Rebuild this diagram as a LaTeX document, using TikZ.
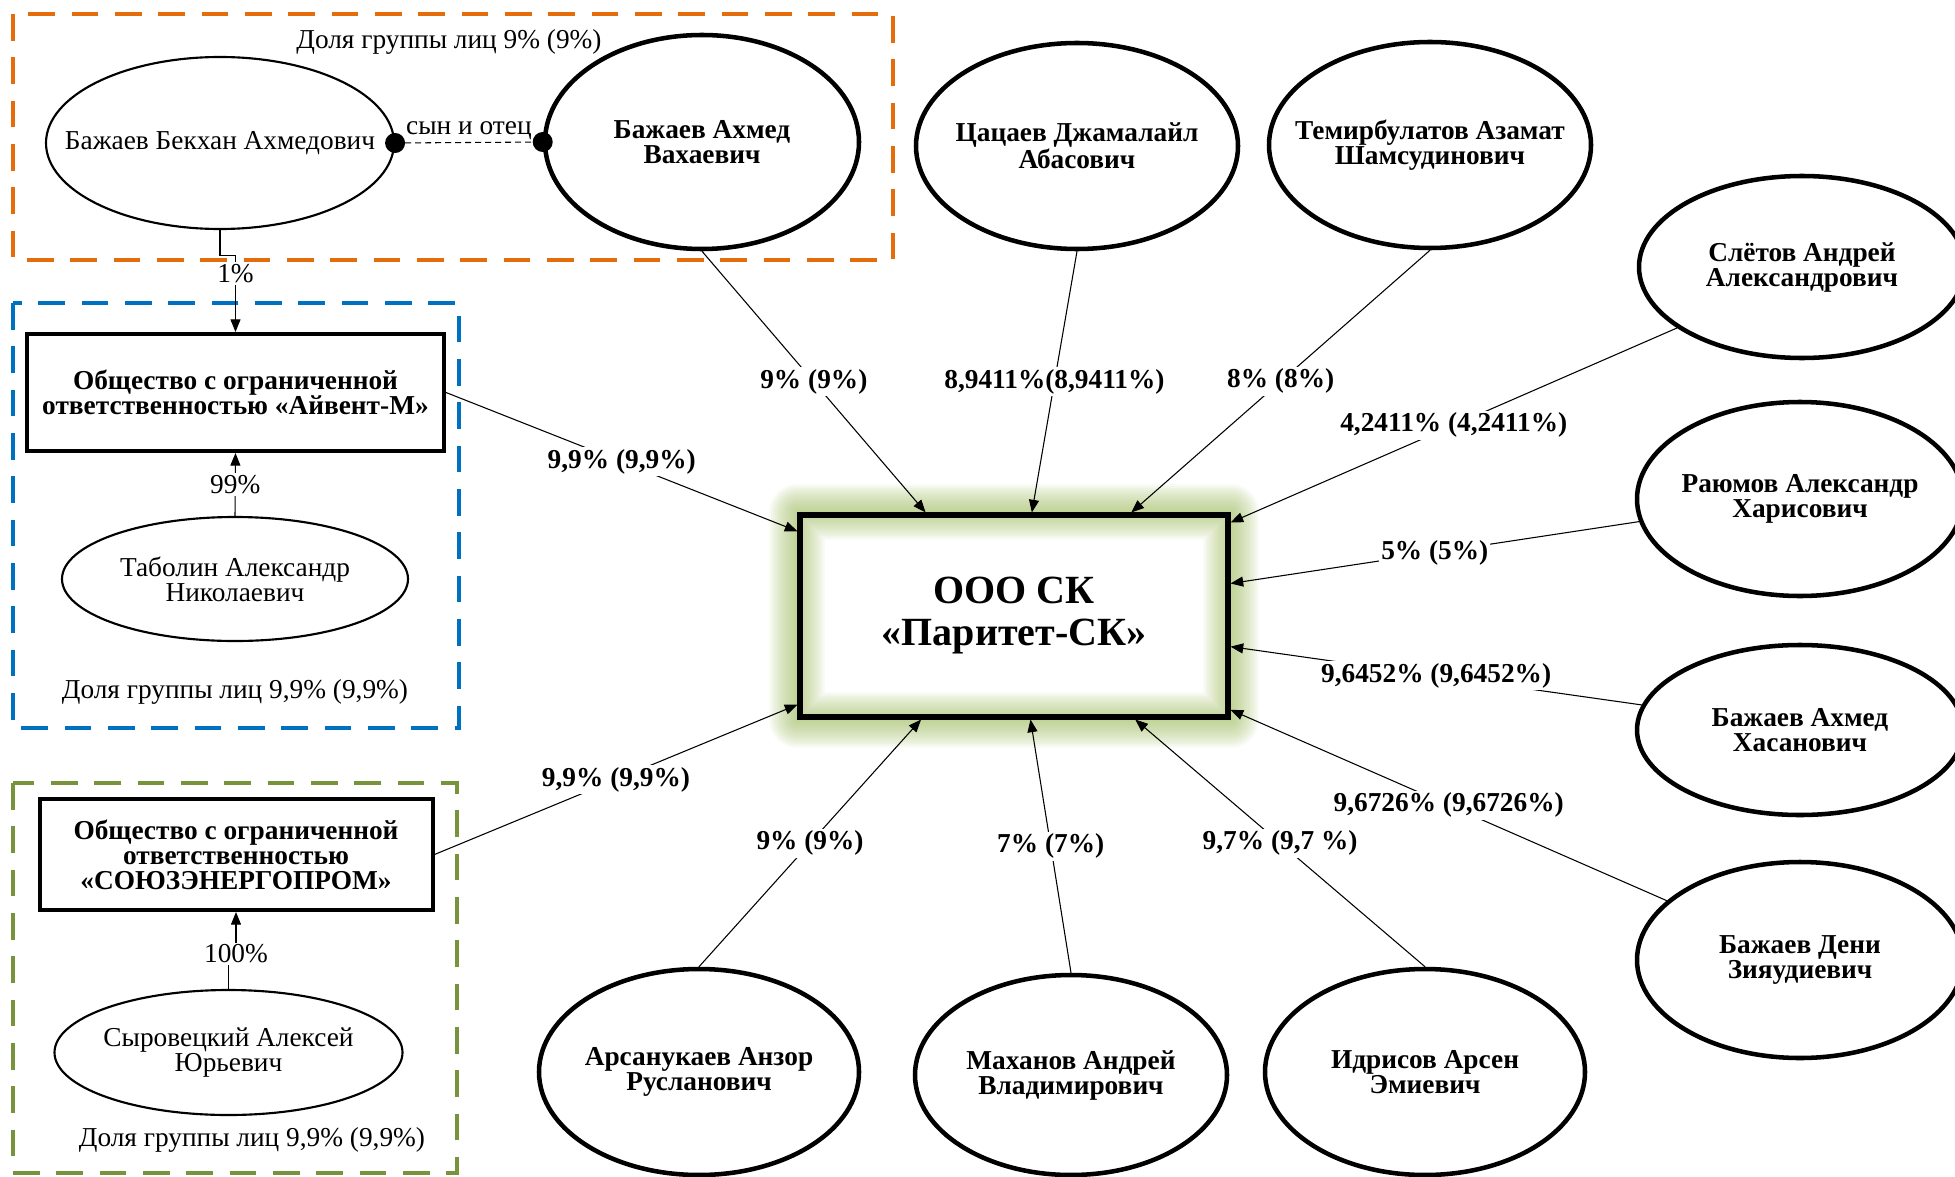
\documentclass[tikz,border=0pt]{standalone}
\usepackage{fontspec}
\setmainfont{Liberation Serif}
\usetikzlibrary{shapes.geometric,arrows.meta,backgrounds}
\definecolor{orangeF}{RGB}{228,108,10}
\definecolor{blueF}{RGB}{0,112,192}
\definecolor{greenF}{RGB}{119,147,60}
\definecolor{glowc}{RGB}{155,187,89}
\newcommand{\nf}{\fontsize{20.5pt}{18.75pt}\selectfont}
\begin{document}
\begin{tikzpicture}[x=0.75pt,y=-0.75pt,
  sz/.style 2 args={minimum width=#1*0.75pt, minimum height=#2*0.75pt},
  person/.style={ellipse, draw, line width=3.4pt, inner xsep=-90pt, inner ysep=-40pt, align=center, font=\nf\bfseries},
  minor/.style={ellipse, draw, line width=1.6pt, inner xsep=-90pt, inner ysep=-40pt, align=center, font=\nf},
  firm/.style={rectangle, draw, line width=3pt, inner sep=0pt, align=center, font=\nf\bfseries},
  conn/.style={line width=0.8pt, -{Triangle[length=9.5pt,width=7.5pt]}},
  plainc/.style={line width=0.8pt},
  lbl/.style={fill=white, inner sep=1.5pt, font=\nf\bfseries},
  lbln/.style={fill=white, inner sep=1.5pt, font=\nf},
  frame/.style={line width=2.6pt, dash pattern=on 20pt off 12.5pt},
  note/.style={font=\nf, inner sep=0pt}]
\useasboundingbox (0,0) rectangle (1955,1177);

% group frames
\draw[frame, orangeF] (13,14) rectangle (893,260);
\draw[frame, blueF] (13,303) rectangle (459,728);
\draw[frame, greenF] (13,783) rectangle (457,1173);

\node[note] (n1) at (449,42) {Доля группы лиц 9\% (9\%)};
\node[note] (n2) at (235,692) {Доля группы лиц 9,9\% (9,9\%)};
\node[note] (n3) at (252,1140) {Доля группы лиц 9,9\% (9,9\%)};

% nodes
\node[minor, sz={348}{172}] (bek) at (220,143) {Бажаев Бекхан Ахмедович};
\node[person, sz={314}{214}] (vah) at (702,142) {Бажаев Ахмед\\Вахаевич};
\node[person, sz={322}{206}] (tsa) at (1077,146) {Цацаев Джамалайл\\Абасович};
\node[person, sz={322}{206}] (tem) at (1430,145) {Темирбулатов Азамат\\Шамсудинович};
\node[person, sz={326}{182}] (slet) at (1802,267) {Слётов Андрей\\Александрович};
\node[person, sz={326}{194}] (rayu) at (1800,499) {Раюмов Александр\\Харисович};
\node[person, sz={326}{170}] (khas) at (1800,730) {Бажаев Ахмед\\Хасанович};
\node[person, sz={326}{196}] (deni) at (1800,960) {Бажаев Дени\\Зияудиевич};
\node[person, sz={320}{206}] (idr) at (1425,1072) {Идрисов Арсен\\Эмиевич};
\node[person, sz={312}{200}] (makh) at (1071,1075) {Маханов Андрей\\Владимирович};
\node[person, sz={320}{206}] (arsa) at (699,1072) {Арсанукаев Анзор\\Русланович};
\node[minor, sz={346}{124}] (tab) at (235,579) {Таболин Александр\\Николаевич};
\node[minor, sz={348}{125}] (syr) at (228.5,1052.5) {Сыровецкий Алексей\\Юрьевич};

\node[firm, sz={417}{117}] (aivent) at (235.5,392.5) {Общество с ограниченной\\ответственностью «Айвент-М»};
\node[firm, sz={393}{111}] (soyuz) at (236,854.5) {Общество с ограниченной\\ответственностью\\«СОЮЗЭНЕРГОПРОМ»};
\node[firm, line width=3.8pt, sz={428}{202}, font=\fontsize{30pt}{31.5pt}\selectfont\bfseries] (central) at (1014,616) {ООО СК\\«Паритет-СК»};

% glow
\begin{scope}[on background layer]
\fill[white] (0,0) rectangle (1955,1177);
\foreach \w in {4,8,...,56}
  \draw[glowc, opacity=0.06, line width=\w*0.75pt, line join=round] (central.north west) rectangle (central.south east);
\end{scope}

% family link
\draw[plainc, dash pattern=on 4.5pt off 3pt] (bek.east) -- node[above=1pt, font=\nf, inner sep=1pt] (rel) {сын и отец} (vah.west);
\fill (bek.east) circle[radius=7.5pt];
\fill (vah.west) circle[radius=7.5pt];

% subsidiary links
\draw[conn] (bek.south) -- ++(0,25) -| node[lbln, pos=0.62] (l1) {1\%} (aivent.north);
\draw[conn] (tab.north) -- node[lbln] (l99) {99\%} (aivent.south);
\draw[conn] (syr.north) -- ++(0,-35) -| node[lbln, pos=0.5] (l100) {100\%} (soyuz.south);

% shareholders
\draw[conn] (vah.south) -- node[lbl] {9\% (9\%)} (central);
\draw[conn] (tsa.south) -- node[lbl] {8,9411\%(8,9411\%)} (central);
\draw[conn] (tem.south) -- node[lbl] {8\% (8\%)} (central);
\draw[conn] (slet.206) -- node[lbl] {4,2411\% (4,2411\%)} (central);
\draw[conn] (rayu.188) -- node[lbl] {5\% (5\%)} (central);
\draw[conn] (khas.171) -- node[lbl] {9,6452\% (9,6452\%)} (central);
\draw[conn] (deni.156) -- node[lbl] {9,6726\% (9,6726\%)} (central);
\draw[conn] (idr.north) -- node[lbl] {9,7\% (9,7 \%)} (central);
\draw[conn] (makh.north) -- node[lbl] {7\% (7\%)} (central);
\draw[conn] (arsa.north) -- node[lbl] {9\% (9\%)} (central);
\draw[conn] (soyuz.east) -- node[lbl] {9,9\% (9,9\%)} (central);
\draw[conn] (aivent.east) -- node[lbl] {9,9\% (9,9\%)} (central);
\end{tikzpicture}
\end{document}
